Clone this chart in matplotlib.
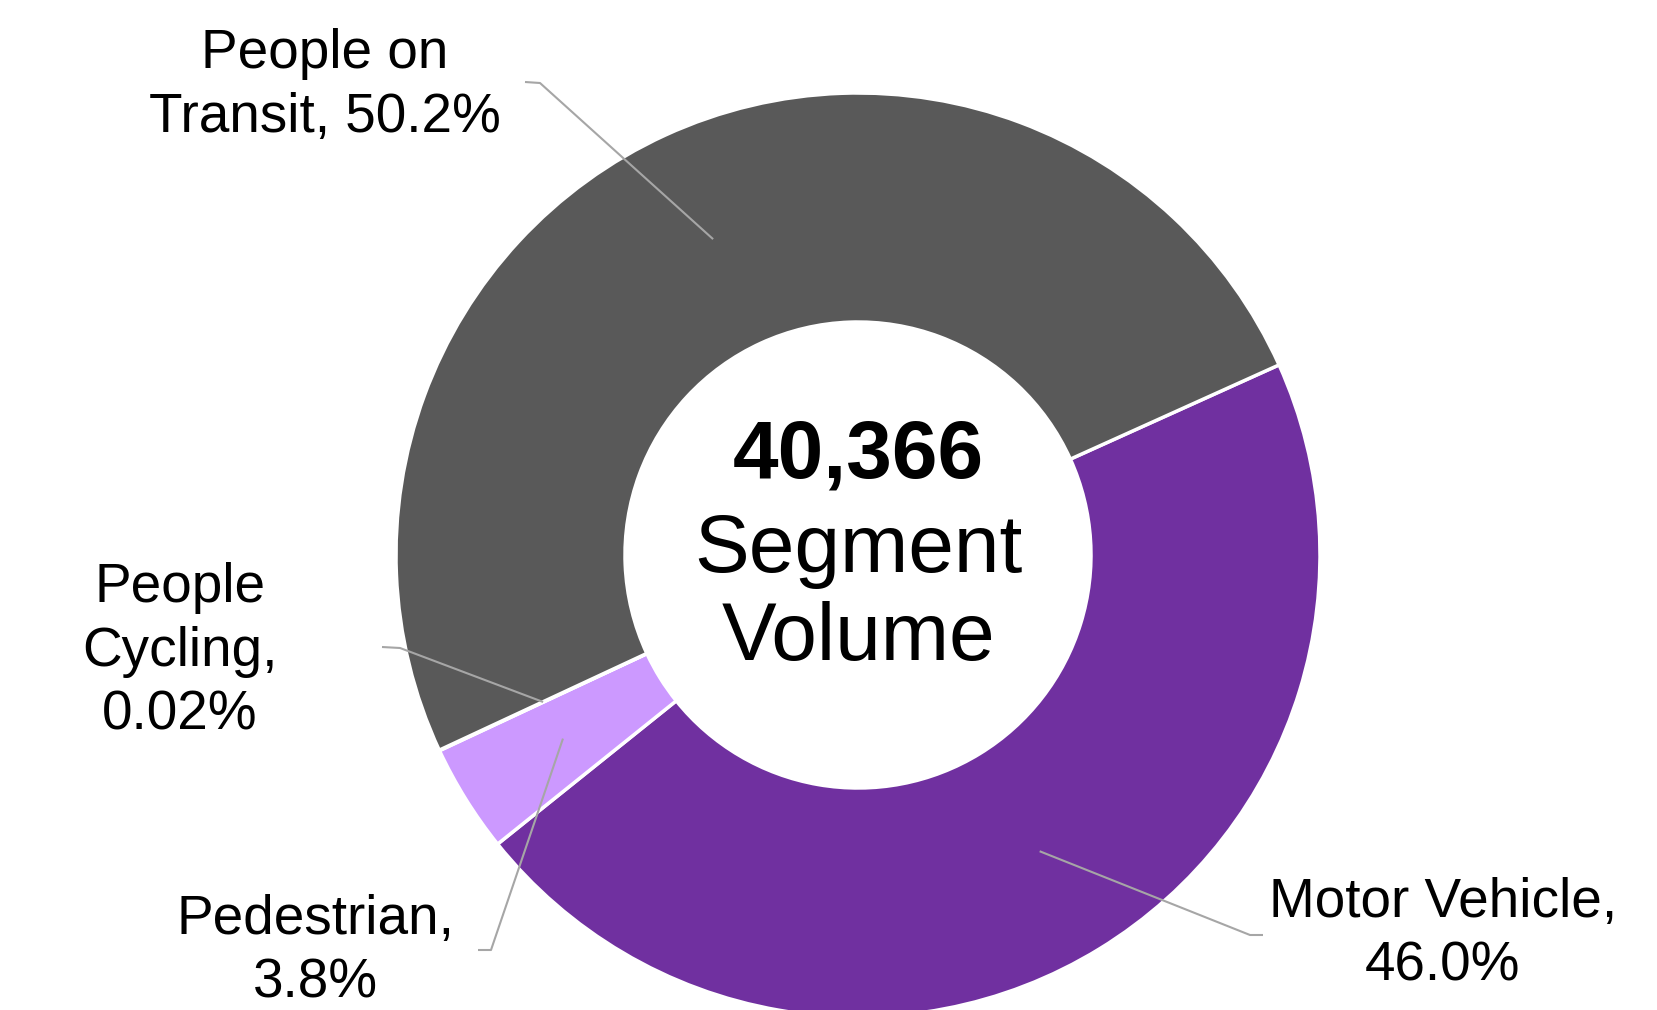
import numpy as np
import matplotlib.pyplot as plt

plt.rcParams['font.family'] = ['Liberation Sans', 'DejaVu Sans']

# data (clockwise from the transit / motor vehicle boundary)
modes = ['Motor Vehicle', 'Pedestrian', 'People Cycling', 'People on Transit']
shares = [46.0, 3.8, 0.02, 50.2]
labels = ['Motor Vehicle,\n46.0%', 'Pedestrian,\n3.8%', 'People\nCycling,\n0.02%', 'People on\nTransit, 50.2%']
colors = ['#7030A0', '#CC99FF', '#A5A5A5', '#595959']
total_volume = '40,366'
caption = 'Segment\nVolume'

W, H = 1658, 1010
cx, cy = 858, H - 555
R, ring = 462, 229

# label block centres and leader elbow points (pixels, y down)
label_pos = [(1443, 935), (315, 952), (180, 652), (325, 86)]
elbows = [[(1263, 935), (1250, 935)],
          [(478, 950), (491, 950)],
          [(382, 647), (400, 648)],
          [(525, 82), (540, 83)]]

fig = plt.figure(figsize=(W / 100, H / 100), dpi=100)
ax = fig.add_axes([0, 0, 1, 1])

wedges, _ = ax.pie(shares, colors=colors, startangle=24.3, counterclock=False,
                   center=(cx, cy), radius=R,
                   wedgeprops=dict(width=ring, edgecolor='white', linewidth=2.5))
ax.set_xlim(0, W)
ax.set_ylim(0, H)
ax.axis('off')

rmid = R - ring / 2
for w, lab, pos, elb in zip(wedges, labels, label_pos, elbows):
    t = np.deg2rad((w.theta1 + w.theta2) / 2)
    xe, ye = cx + rmid * np.cos(t), cy + rmid * np.sin(t)
    xs = [p[0] for p in elb] + [xe]
    ys = [H - p[1] for p in elb] + [ye]
    ax.plot(xs, ys, color='#A6A6A6', lw=1.5, solid_capstyle='butt')
    ax.text(pos[0], H - pos[1], lab, ha='center', va='center', fontsize=39.5,
            linespacing=1.29, color='black')

ax.text(cx, H - 457, total_volume, ha='center', va='center', fontsize=59,
        fontweight='bold')
ax.text(cx, H - 595, caption, ha='center', va='center', fontsize=59,
        linespacing=1.21)

fig.savefig('out.png', dpi=100, facecolor='white')
